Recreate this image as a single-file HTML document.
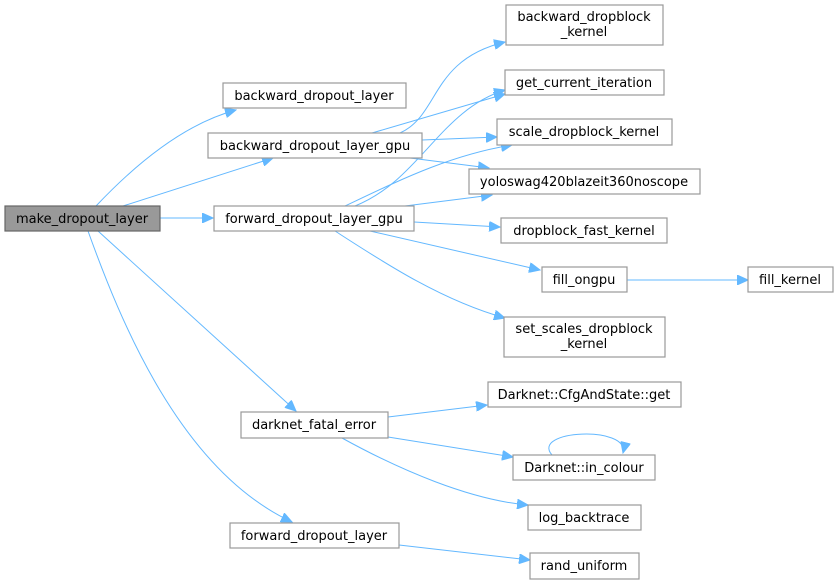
<!DOCTYPE html>
<html><head><meta charset="utf-8"><style>
html,body{margin:0;padding:0;background:#fff;}
svg{display:block;}
text{font-family:"DejaVu Sans","Liberation Sans",sans-serif;font-size:13px;fill:#000;text-anchor:middle;}
rect{fill:#fff;stroke:#999;stroke-width:1.2;}
path{fill:none;stroke:#63b8ff;stroke-width:1;}
</style></head><body>
<svg width="839" height="585" viewBox="0 0 839 585" xmlns="http://www.w3.org/2000/svg">
<defs><marker id="a" markerUnits="userSpaceOnUse" markerWidth="12" markerHeight="10" refX="11" refY="5" orient="auto"><path d="M0,0 L11,5 L0,10 z" style="fill:#63b8ff;stroke:#63b8ff"/></marker></defs>
<g marker-end="url(#a)">
<path d="M96,206 C130,170 180,125 236,110"/>
<path d="M123,206 L273,158"/>
<path d="M160,218 L213,218"/>
<path d="M98,231 L296,411"/>
<path d="M88,231 C120,320 180,470 292,522"/>
<path d="M400,133 C440,115 430,60 505,42"/>
<path d="M372,133 L505,94"/>
<path d="M422,140 L497,137"/>
<path d="M410,158 L489,168"/>
<path d="M355,206 C420,180 440,110 505,90"/>
<path d="M345,206 C400,180 450,155 512,145"/>
<path d="M405,206 L492,195"/>
<path d="M414,222 L500,227"/>
<path d="M370,231 L540,270"/>
<path d="M335,231 C380,260 440,300 505,318"/>
<path d="M627,280 L748,280"/>
<path d="M388,417 L487,405"/>
<path d="M388,437 L513,457"/>
<path d="M342,438 C400,470 470,500 528,505"/>
<path d="M552,455 C530,430 630,425 623,453"/>
<path d="M399,545 L530,560"/>
</g>
<rect x="5" y="206" width="155" height="25" style="fill:#999;stroke:#666"/><text x="82" y="223">make_dropout_layer</text>
<rect x="223" y="83" width="183" height="25"/><text x="314" y="100">backward_dropout_layer</text>
<rect x="208" y="133" width="214" height="25"/><text x="315" y="150">backward_dropout_layer_gpu</text>
<rect x="214" y="206" width="200" height="25"/><text x="314" y="223">forward_dropout_layer_gpu</text>
<rect x="241" y="412" width="147" height="26"/><text x="314" y="429">darknet_fatal_error</text>
<rect x="230" y="523" width="169" height="25"/><text x="314" y="540">forward_dropout_layer</text>
<rect x="506" y="5" width="157" height="40"/><text x="584" y="21">backward_dropblock</text><text x="584" y="36">_kernel</text>
<rect x="505" y="70" width="159" height="25"/><text x="584" y="87">get_current_iteration</text>
<rect x="497" y="119" width="175" height="26"/><text x="584" y="136">scale_dropblock_kernel</text>
<rect x="469" y="169" width="231" height="25"/><text x="584" y="186">yoloswag420blazeit360noscope</text>
<rect x="501" y="218" width="166" height="25"/><text x="584" y="235">dropblock_fast_kernel</text>
<rect x="542" y="267" width="85" height="25"/><text x="584" y="284">fill_ongpu</text>
<rect x="748" y="267" width="85" height="25"/><text x="790" y="284">fill_kernel</text>
<rect x="504" y="317" width="161" height="40"/><text x="584" y="333">set_scales_dropblock</text><text x="584" y="348">_kernel</text>
<rect x="488" y="382" width="193" height="25"/><text x="584" y="399">Darknet::CfgAndState::get</text>
<rect x="513" y="455" width="142" height="25"/><text x="584" y="472">Darknet::in_colour</text>
<rect x="528" y="505" width="113" height="25"/><text x="584" y="522">log_backtrace</text>
<rect x="530" y="553" width="109" height="26"/><text x="584" y="570">rand_uniform</text>
</svg>
</body></html>
